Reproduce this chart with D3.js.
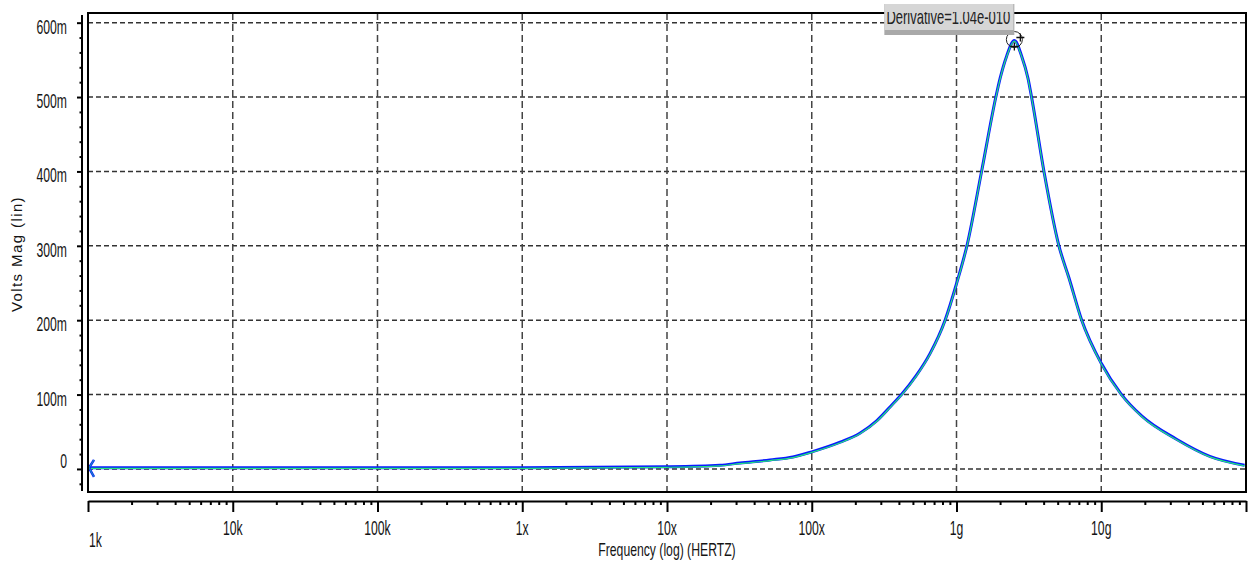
<!DOCTYPE html>
<html>
<head>
<meta charset="utf-8">
<script src="https://cdn.jsdelivr.net/npm/d3@7/dist/d3.min.js"></script>
<style>
  body { margin: 0; background: #fff; }
  svg { display: block; }
</style>
</head>
<body>
<svg id="chart" width="1250" height="565"></svg>
<script>
// AC sweep (magnitude in millivolts)
var freqHz = [1e3, 1e4, 1e5, 1e6, 1e7, 2.32e7, 3.19e7, 5.14e7, 7.41e7, 1e8, 1.57e8, 2.15e8, 2.82e8,
    3.5e8, 4.17e8, 5.25e8, 6.56e8, 8.34e8, 1e9, 1.18e9, 1.49e9, 1.87e9, 2.0e9, 2.22e9, 2.51e9, 2.82e9, 3.12e9,
    3.30e9, 4.02e9, 5.1e9, 5.98e9, 7.33e9, 1e10, 1.38e10, 1.91e10, 3.31e10, 5.62e10, 9.77e10];
var voltsMag = [1.5, 1.5, 1.5, 1.5, 3, 5, 8, 12, 16, 23, 36, 48, 65,
    84, 100, 125, 155, 200, 249, 300, 400, 500, 525, 555, 576, 555, 525,
    500, 400, 300, 257, 200, 142, 100, 71, 40, 17, 5];

var xTickValues = [1e3, 1e4, 1e5, 1e6, 1e7, 1e8, 1e9, 1e10, 1e11];
var xTickLabels = ["1k", "10k", "100k", "1x", "10x", "100x", "1g", "10g", ""];
var yTickValues = [0, 100, 200, 300, 400, 500, 600];
var yTickLabels = ["0", "100m", "200m", "300m", "400m", "500m", "600m"];

var cursorFreq = 2.51e9;
var cursorMag = 576;
var cursorText = "Derivative=1.04e-010";

var svg = d3.select("#chart");
var plotL = 88, plotR = 1246, plotT = 13, plotB = 492;
var labelFont = "'Liberation Sans', Arial, sans-serif";
var textColor = "#141414";

var x = d3.scaleLog().domain([1e3, 1e11]).range([plotL, plotR]);
var y = d3.scaleLinear().domain([-31, 613]).range([plotB, plotT]);

// grid
var grid = svg.append("g");
grid.selectAll("line.h")
    .data(yTickValues)
    .enter().append("line")
    .attr("class", "h")
    .attr("x1", plotL).attr("x2", plotR)
    .attr("y1", function (d) { return y(d); })
    .attr("y2", function (d) { return y(d); })
    .attr("stroke", "#333")
    .attr("stroke-width", 1.5)
    .attr("stroke-dasharray", "5,3");
grid.selectAll("line.v")
    .data(xTickValues.slice(1, -1))
    .enter().append("line")
    .attr("class", "v")
    .attr("x1", function (d) { return x(d); })
    .attr("x2", function (d) { return x(d); })
    .attr("y1", plotT).attr("y2", plotB)
    .attr("stroke", "#444")
    .attr("stroke-width", 1.5)
    .attr("stroke-dasharray", "7,4");

// trace: blue with green on top
var line = d3.line()
    .x(function (d, i) { return x(freqHz[i]); })
    .y(function (d) { return y(d); })
    .curve(d3.curveMonotoneX);

svg.append("path")
    .attr("d", line(voltsMag))
    .attr("fill", "none")
    .attr("stroke", "#0a1aff")
    .attr("stroke-width", 3);
svg.append("path")
    .attr("d", line(voltsMag))
    .attr("fill", "none")
    .attr("stroke", "#22e87a")
    .attr("stroke-width", 1.2)
    .attr("transform", "translate(0,0.6)");

// left arrow marker on the trace
var ax = x(freqHz[0]), ay = y(voltsMag[0]);
var arrowPath = "M" + (ax + 6) + "," + (ay - 8) + "L" + (ax + 1) + "," + ay + "L" + (ax + 6) + "," + (ay + 9);
svg.append("path").attr("d", arrowPath).attr("fill", "none")
    .attr("stroke", "#0a1aff").attr("stroke-width", 2.5);
svg.append("path").attr("d", arrowPath).attr("fill", "none")
    .attr("stroke", "#22c8a0").attr("stroke-width", 0.8);

// frame
svg.append("rect")
    .attr("x", plotL).attr("y", plotT)
    .attr("width", plotR - plotL).attr("height", plotB - plotT)
    .attr("fill", "none")
    .attr("stroke", "#000")
    .attr("stroke-width", 2);

// y axis (separate line left of the frame)
var yMinor = d3.range(-20, 601, 20).filter(function (d) { return d % 100 !== 0; });
var yAxisG = svg.append("g").attr("transform", "translate(82,0)");
yAxisG.call(d3.axisLeft(y).tickValues(yTickValues).tickSize(5).tickFormat("").tickSizeOuter(0));
yAxisG.append("g").call(d3.axisLeft(y).tickValues(yMinor).tickSize(2.5).tickFormat("").tickSizeOuter(0))
    .select(".domain").remove();
yAxisG.selectAll("path.domain").attr("stroke", "#000").attr("stroke-width", 2)
    .attr("d", "M0," + (plotT + 2) + "V" + (plotB - 1));
yAxisG.selectAll(".tick line").attr("stroke", "#000").attr("stroke-width", 2);

svg.selectAll("text.ylab")
    .data(yTickValues)
    .enter().append("text")
    .attr("class", "ylab")
    .attr("transform", function (d) {
        var off = d === 0 ? -1 : 11;
        return "translate(67," + (y(d) + off) + ") scale(0.61,1)";
    })
    .attr("text-anchor", "end")
    .attr("font-family", labelFont)
    .attr("font-size", 20)
    .attr("fill", textColor)
    .text(function (d, i) { return yTickLabels[i]; });

// x axis (separate line under the frame)
var xMinor = [];
xTickValues.slice(0, -1).forEach(function (d) {
    for (var k = 2; k <= 9; k++) xMinor.push(d * k);
});
var xAxisG = svg.append("g").attr("transform", "translate(0,501)");
xAxisG.call(d3.axisBottom(x).tickValues(xTickValues).tickSize(11).tickFormat("").tickSizeOuter(0));
xAxisG.append("g").call(d3.axisBottom(x).tickValues(xMinor).tickSize(4).tickFormat("").tickSizeOuter(0))
    .select(".domain").remove();
xAxisG.selectAll("path.domain").attr("stroke", "#000").attr("stroke-width", 2);
xAxisG.selectAll(".tick line").attr("stroke", "#000").attr("stroke-width", 2);

svg.selectAll("text.xlab")
    .data(xTickValues)
    .enter().append("text")
    .attr("class", "xlab")
    .attr("transform", function (d, i) {
        if (i === 0) return "translate(" + (x(d) + 1) + ",547) scale(0.61,1)";
        return "translate(" + x(d) + ",535) scale(0.61,1)";
    })
    .attr("text-anchor", function (d, i) { return i === 0 ? "start" : "middle"; })
    .attr("font-family", labelFont)
    .attr("font-size", 20)
    .attr("fill", textColor)
    .text(function (d, i) { return xTickLabels[i]; });

// axis titles
svg.append("text")
    .attr("transform", "translate(" + ((plotL + plotR) / 2) + ",556) scale(0.66,1)")
    .attr("text-anchor", "middle")
    .attr("font-family", labelFont)
    .attr("font-size", 18.5)
    .attr("fill", textColor)
    .text("Frequency (log) (HERTZ)");

svg.append("text")
    .attr("transform", "translate(22,254) rotate(-90)")
    .attr("text-anchor", "middle")
    .attr("font-family", labelFont)
    .attr("font-size", 15)
    .attr("letter-spacing", 1.4)
    .attr("fill", textColor)
    .text("Volts Mag (lin)");

// cursor at the peak
var cx = x(cursorFreq), cy = y(cursorMag);
svg.append("circle")
    .attr("cx", cx).attr("cy", cy - 1).attr("r", 8)
    .attr("fill", "none").attr("stroke", "#222").attr("stroke-width", 1);
[[cx + 6, cy - 3], [cx, cy + 6]].forEach(function (p) {
    svg.append("path")
        .attr("d", "M" + (p[0] - 4) + "," + p[1] + "H" + (p[0] + 4) + "M" + p[0] + "," + (p[1] - 4) + "V" + (p[1] + 4))
        .attr("stroke", "#111").attr("stroke-width", 1.3);
});

// cursor readout box (text cut off at the top, like the screenshot)
var tip = svg.append("g");
tip.append("rect")
    .attr("x", cx - 130).attr("y", 4)
    .attr("width", 130).attr("height", 31)
    .attr("fill", "#a9a9a9");
tip.append("rect")
    .attr("x", cx - 130).attr("y", 4)
    .attr("width", 129).attr("height", 26)
    .attr("fill", "#d6d6d6");
svg.append("clipPath").attr("id", "tipclip")
    .append("rect").attr("x", cx - 130).attr("y", 12).attr("width", 130).attr("height", 18);
tip.append("g")
    .attr("clip-path", "url(#tipclip)")
    .append("text")
    .attr("transform", "translate(" + (cx - 66) + ",24) scale(0.65,1)")
    .attr("text-anchor", "middle")
    .attr("font-family", labelFont)
    .attr("font-size", 20)
    .attr("fill", "#222")
    .text(cursorText);
</script>
</body>
</html>
